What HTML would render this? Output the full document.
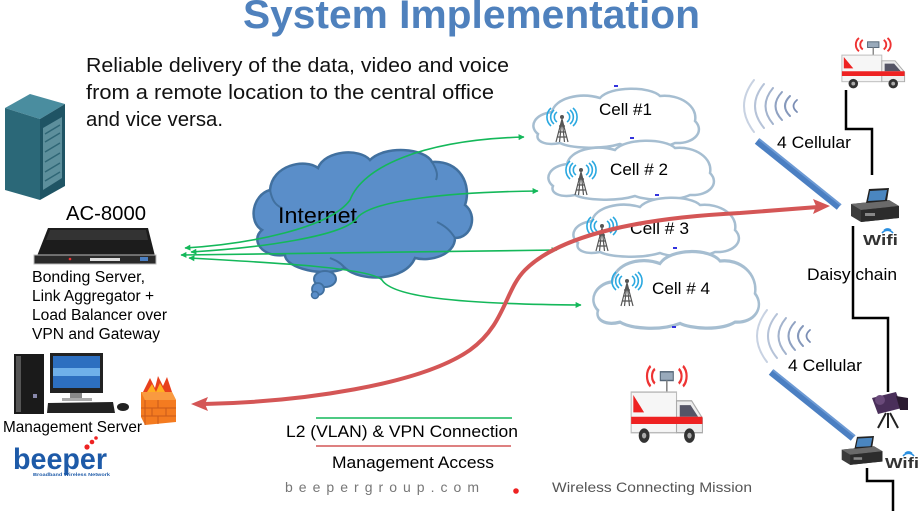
<!DOCTYPE html>
<html><head><meta charset="utf-8"><style>
html,body{margin:0;padding:0;background:#fff;}
svg{display:block;}
text{font-family:"Liberation Sans",sans-serif;}
</style></head><body>
<svg width="923" height="511" viewBox="0 0 923 511" xmlns="http://www.w3.org/2000/svg">
<defs>
<marker id="ga" viewBox="0 0 10 10" refX="9" refY="5" markerWidth="7" markerHeight="6" orient="auto-start-reverse" markerUnits="userSpaceOnUse"><path d="M0,0 L10,5 L0,10 Z" fill="#14b85a"/></marker>
<path id="cellc" d="M 8,48 C -2,40 5,28 22,26 C 25,12 50,6 70,12 C 80,0 120,0 130,10 C 150,8 168,20 165,35 C 175,45 165,58 145,57 C 130,64 100,62 90,58 C 70,64 40,62 30,57 C 15,60 5,55 8,48 Z"/>
<g id="tower">
<path d="M0,7 L-6,30 M0,7 L6,30 M0,7 L-2.5,30 M0,7 L2.5,30 M-4,20 L4,20 M-5,25 L5,25 M-3,14 L3,14" stroke="#555" stroke-width="1.2" fill="none"/>
<circle cx="0" cy="5" r="2" fill="#555"/>
<path d="M-5,0 A6 6 0 0 0 -5,10 M-8,-2 A9 9 0 0 0 -8,12 M-11,-4 A12 12 0 0 0 -11,14 M5,0 A6 6 0 0 1 5,10 M8,-2 A9 9 0 0 1 8,12 M11,-4 A12 12 0 0 1 11,14" stroke="#2aa8e0" stroke-width="1.6" fill="none"/>
</g>
<g id="amb">
<path d="M24,2 A6 6 0 0 0 24,12 M20,0 A9 9 0 0 0 20,14 M46,2 A6 6 0 0 1 46,12 M50,0 A9 9 0 0 1 50,14" stroke="#e33" stroke-width="2" fill="none"/>
<rect x="29" y="4" width="12" height="6" fill="#9ab" stroke="#567"/>
<line x1="35" y1="10" x2="35" y2="18" stroke="#888" stroke-width="1.5"/>
<rect x="2" y="18" width="42" height="28" fill="#f6f6f6" stroke="#bbb"/>
<path d="M44,24 L58,24 L68,36 L68,46 L44,46 Z" fill="#eee" stroke="#aaa"/>
<path d="M47,27 L57,27 L64,35 L47,35 Z" fill="#556"/>
<rect x="2" y="35" width="66" height="5" fill="#e22"/>
<path d="M4,20 L14,32 L4,32 Z" fill="#e22"/>
<circle cx="14" cy="48" r="5" fill="#333"/><circle cx="56" cy="48" r="5" fill="#333"/>
<circle cx="14" cy="48" r="2" fill="#aaa"/><circle cx="56" cy="48" r="2" fill="#aaa"/>
</g>
<g id="dev">
<path d="M2,16 L40,12 L50,18 L50,30 L12,34 L2,28 Z" fill="#3c3c3c"/>
<path d="M2,16 L40,12 L50,18 L12,22 Z" fill="#6a6a6a"/>
<path d="M12,22 L50,18 L50,30 L12,34 Z" fill="#2c2c2c"/>
<rect x="16" y="25" width="10" height="3" fill="#888"/>
<path d="M17,15 L20,1 L40,0 L38,13 Z" fill="#222"/>
<path d="M19,13 L21,3 L38,2 L36,12 Z" fill="#4a86c0"/>
</g>
<g id="beam">
<path d="M0,0 L82,66" stroke="#4b7fc2" stroke-width="7" stroke-linecap="butt"/>
<path d="M2,-2 L84,64" stroke="#6d9ad4" stroke-width="2"/>
</g>
<g id="waves" fill="none" stroke-linecap="round">
<path d="M14,4 Q-6,30 14,56" stroke="#c8d2e2" stroke-width="2"/>
<path d="M24,8 Q6,30 24,52" stroke="#b6c3d8" stroke-width="2"/>
<path d="M33,12 Q18,30 33,48" stroke="#a3b3cd" stroke-width="2"/>
<path d="M42,16 Q29,30 42,44" stroke="#90a2c2" stroke-width="2"/>
<path d="M50,20 Q40,30 50,40" stroke="#8598bb" stroke-width="2"/>
<path d="M57,24 Q50,30 57,36" stroke="#7a8db4" stroke-width="1.8"/>
</g>
</defs>

<!-- Title -->
<text x="243" y="28" font-size="40" font-weight="bold" fill="#4f81bd" textLength="457" lengthAdjust="spacingAndGlyphs">System Implementation</text>
<text x="86" y="72" font-size="20" fill="#111" textLength="423" lengthAdjust="spacingAndGlyphs">Reliable delivery of the data, video and voice</text>
<text x="86" y="99" font-size="20" fill="#111" textLength="408" lengthAdjust="spacingAndGlyphs">from a remote location to the central office</text>
<text x="86" y="126" font-size="20" fill="#111" textLength="137" lengthAdjust="spacingAndGlyphs">and vice versa.</text>

<!-- Server rack -->
<path d="M5,108 L30,94 L65,104 L40,119 Z" fill="#4a8d9f"/>
<path d="M5,108 L40,119 L40,200 L5,190 Z" fill="#2b6878"/>
<path d="M40,119 L65,104 L65,186 L40,200 Z" fill="#1f5464"/>
<path d="M43,128 L62,117 L62,178 L43,190 Z" fill="#5d8f9c"/>
<path d="M45,134 L60,125 M45,142 L60,133 M45,152 L60,143 M45,162 L60,153 M45,172 L60,163 M45,181 L60,172" stroke="#2f6676" stroke-width="1.5"/>

<!-- AC-8000 -->
<text x="66" y="220" font-size="20" fill="#000" textLength="80" lengthAdjust="spacingAndGlyphs">AC-8000</text>
<path d="M48,228 L148,228 L155,256 L37,256 Z" fill="#1c1c1c"/>
<path d="M50,230 L146,230 L148,240 L46,240 Z" fill="#333"/>
<rect x="34" y="255" width="122" height="9" fill="#2a2a2a" stroke="#bbb" stroke-width="1"/>
<rect x="90" y="258" width="30" height="3" fill="#ddd"/>
<circle cx="70" cy="259" r="1.3" fill="#e33"/>
<rect x="140" y="257" width="8" height="4" fill="#4a7ec0"/>
<text x="32" y="282" font-size="15.5" fill="#000" textLength="113" lengthAdjust="spacingAndGlyphs">Bonding Server,</text>
<text x="32" y="301" font-size="15.5" fill="#000" textLength="122" lengthAdjust="spacingAndGlyphs">Link Aggregator +</text>
<text x="32" y="320" font-size="15.5" fill="#000" textLength="135" lengthAdjust="spacingAndGlyphs">Load Balancer over</text>
<text x="32" y="339" font-size="15.5" fill="#000" textLength="128" lengthAdjust="spacingAndGlyphs">VPN and Gateway</text>

<!-- PC -->
<rect x="14" y="354" width="30" height="60" fill="#1a1a1a"/>
<rect x="16" y="356" width="5" height="56" fill="#555"/>
<rect x="33" y="394" width="4" height="4" fill="#88a"/>
<rect x="50" y="353" width="53" height="40" fill="#222"/>
<rect x="53" y="356" width="47" height="32" fill="#2d6fc0"/>
<rect x="53" y="368" width="47" height="8" fill="#6fb0ea"/>
<rect x="70" y="393" width="12" height="6" fill="#888"/>
<rect x="62" y="398" width="30" height="3" fill="#aaa"/>
<path d="M48,403 L113,402 L115,413 L47,413 Z" fill="#222"/>
<ellipse cx="123" cy="407" rx="6" ry="4" fill="#222"/>
<!-- Firewall -->
<path d="M143,392 L150,378 L155,388 L158,376 L163,386 L167,377 L172,392 Z" fill="#e8401c"/>
<path d="M147,392 L152,384 L156,392 L160,383 L165,392 Z" fill="#ffb020"/>
<path d="M141,392 L172,392 L176,400 L176,422 L145,425 L141,417 Z" fill="#f47b20"/>
<path d="M141,392 L172,392 L176,400 L145,400 Z" fill="#f99a40"/>
<path d="M145,400 L145,425 M141,408 L176,408 M141,416 L176,416 M158,400 L158,408 M152,408 L152,416 M166,408 L166,416 M158,416 L158,424" stroke="#c9591a" stroke-width="1"/>
<text x="3" y="432" font-size="16" fill="#000" textLength="139" lengthAdjust="spacingAndGlyphs">Management Server</text>
<!-- beeper logo -->
<text x="13" y="469" font-size="30" font-weight="bold" fill="#1d5aa8" textLength="94" lengthAdjust="spacingAndGlyphs">beeper</text>
<circle cx="87" cy="447" r="2.6" fill="#e22"/><circle cx="92" cy="442" r="2.3" fill="#e22"/><circle cx="96" cy="438" r="1.8" fill="#e22"/>
<text x="33" y="476" font-size="4.5" fill="#1d5aa8" font-weight="bold" textLength="77" lengthAdjust="spacingAndGlyphs">Broadband  Wireless Network</text>

<!-- Internet cloud -->
<path d="M270,190 C272,165 305,158 318,168 C325,150 360,148 370,160 C385,145 425,148 432,162 C460,160 472,185 465,205 C478,215 472,238 455,238 C455,255 430,262 415,258 C405,282 360,282 345,268 C325,278 285,268 285,255 C262,258 250,240 262,230 C248,222 252,195 270,190 Z" fill="#5a8ec9" stroke="#41709f" stroke-width="2.5"/>
<path d="M270,190 C272,200 275,205 282,208 M432,162 C437,170 438,175 436,180 M455,238 C450,230 445,226 437,222 M345,268 C340,262 335,260 330,258" stroke="#41709f" stroke-width="2" fill="none"/>
<ellipse cx="325" cy="279" rx="11" ry="8" fill="#5a8ec9" stroke="#41709f" stroke-width="2"/>
<circle cx="318" cy="289" r="6" fill="#5a8ec9" stroke="#41709f" stroke-width="1.8"/>
<circle cx="315" cy="295" r="3.5" fill="#5a8ec9" stroke="#41709f" stroke-width="1.5"/>
<text x="278" y="223" font-size="22" fill="#000" textLength="79" lengthAdjust="spacingAndGlyphs">Internet</text>

<!-- Cell clouds -->
<g fill="#fff" stroke="#a6bed1" stroke-width="2.5">
<use href="#cellc" transform="translate(530,86)"/>
<use href="#cellc" transform="translate(545,138)"/>
<use href="#cellc" transform="translate(570,195)"/>
<use href="#cellc" transform="translate(590,248) scale(1,1.3)"/>
</g>
<g fill="#3333dd">
<rect x="614" y="85" width="4" height="2"/><rect x="630" y="137" width="4" height="2"/><rect x="655" y="194" width="4" height="2"/><rect x="673" y="247" width="4" height="2"/><rect x="672" y="326" width="4" height="2"/>
</g>
<use href="#tower" transform="translate(562,112)"/>
<use href="#tower" transform="translate(581,165)"/>
<use href="#tower" transform="translate(602,221)"/>
<use href="#tower" transform="translate(627,276)"/>
<text x="599" y="115" font-size="17" fill="#000" textLength="53" lengthAdjust="spacingAndGlyphs">Cell #1</text>
<text x="610" y="175" font-size="17" fill="#000" textLength="58" lengthAdjust="spacingAndGlyphs">Cell # 2</text>
<text x="630" y="234" font-size="17" fill="#000" textLength="59" lengthAdjust="spacingAndGlyphs">Cell # 3</text>
<text x="652" y="294" font-size="17" fill="#000" textLength="58" lengthAdjust="spacingAndGlyphs">Cell # 4</text>

<!-- Green connectors -->
<g fill="none" stroke="#14b85a" stroke-width="1.6" marker-start="url(#ga)" marker-end="url(#ga)">
<path d="M185,248 C250,244 330,228 350,200 C362,168 420,140 524,137"/>
<path d="M191,252 C260,248 345,236 357,218 C372,200 450,192 538,191"/>
<path d="M181,255 L557,250"/>
<path d="M189,258 C280,263 370,268 382,280 C392,296 450,304 581,305"/>
</g>

<!-- Red management access -->
<path d="M204,404 C300,402 420,385 470,350 C505,325 505,290 525,270 C560,235 640,218 740,213 L818,207" fill="none" stroke="#d45656" stroke-width="4"/>
<path d="M191,404 L208,397 L205,404 L208,411 Z" fill="#d45656"/>
<path d="M830,206 L813,199 L816,206 L813,214 Z" fill="#d45656"/>

<!-- Right side -->
<use href="#waves" transform="translate(740,76)"/>
<use href="#waves" transform="translate(753,306)"/>
<use href="#beam" transform="translate(757,141)"/>
<use href="#beam" transform="translate(771,372)"/>
<use href="#amb" transform="translate(840,38) scale(0.95)"/>
<path d="M846,90 L846,129 L872,129 L872,175" fill="none" stroke="#000" stroke-width="2.5"/>
<use href="#dev" transform="translate(849,188)"/>
<path d="M853,226 L853,318 L888,318 L888,392" fill="none" stroke="#000" stroke-width="2.5"/>
<text x="863" y="245" font-size="15" font-weight="bold" fill="#333" textLength="35" lengthAdjust="spacingAndGlyphs">Wifi</text>
<path d="M882,233 A7 7 0 0 1 893,233 M884,230.5 A4.5 4.5 0 0 1 891,230.5" stroke="#2a8fe0" stroke-width="1.5" fill="none"/>
<text x="777" y="148" font-size="17" fill="#000" textLength="74" lengthAdjust="spacingAndGlyphs">4 Cellular</text>
<text x="807" y="280" font-size="17" fill="#000" textLength="90" lengthAdjust="spacingAndGlyphs">Daisy chain</text>
<text x="788" y="371" font-size="17" fill="#000" textLength="74" lengthAdjust="spacingAndGlyphs">4 Cellular</text>
<!-- camera -->
<path d="M872,398 L896,392 L902,408 L878,414 Z" fill="#4a2f5a"/>
<path d="M896,396 L908,398 L908,410 L900,410 Z" fill="#2a1a30"/>
<circle cx="880" cy="400" r="5" fill="#6a4a7a"/>
<path d="M886,413 L878,428 M888,413 L888,428 M890,413 L898,428" stroke="#222" stroke-width="2"/>
<use href="#dev" transform="translate(840,436) scale(0.85)"/>
<path d="M867,468 L867,481 L893,481 L893,511" fill="none" stroke="#000" stroke-width="2.5"/>
<text x="885" y="468" font-size="15" font-weight="bold" fill="#333" textLength="34" lengthAdjust="spacingAndGlyphs">Wifi</text>
<path d="M903,456 A7 7 0 0 1 914,456 M905,453.5 A4.5 4.5 0 0 1 912,453.5" stroke="#2a8fe0" stroke-width="1.5" fill="none"/>

<!-- Middle ambulance -->
<use href="#amb" transform="translate(629,366) scale(1.08,1.45)"/>

<!-- Legend -->
<line x1="316" y1="418" x2="512" y2="418" stroke="#14b85a" stroke-width="1.6"/>
<text x="286" y="437" font-size="17" fill="#000" textLength="232" lengthAdjust="spacingAndGlyphs">L2 (VLAN) &amp; VPN Connection</text>
<line x1="316" y1="446" x2="511" y2="446" stroke="#d45656" stroke-width="1.6"/>
<text x="332" y="468" font-size="17" fill="#000" textLength="162" lengthAdjust="spacingAndGlyphs">Management Access</text>
<text x="285" y="492" font-size="14" fill="#777" textLength="194" lengthAdjust="spacing">beepergroup.com</text>
<circle cx="516" cy="491" r="2.8" fill="#e22"/>
<text x="552" y="492" font-size="14" fill="#555" textLength="200" lengthAdjust="spacingAndGlyphs">Wireless Connecting Mission</text>
</svg>
</body></html>
